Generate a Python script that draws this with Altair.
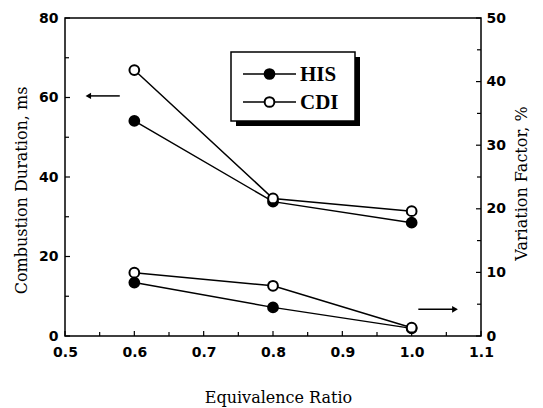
import altair as alt
import pandas as pd

# ---- data ----
ratio = [0.6, 0.8, 1.0]
series_names = ["HIS", "CDI"]
duration_his = [54.1, 33.8, 28.5]
duration_cdi = [66.9, 34.6, 31.4]
variation_his = [8.4, 4.5, 1.2]
variation_cdi = [9.95, 7.9, 1.3]

x_ticks = [0.5, 0.6, 0.7, 0.8, 0.9, 1.0, 1.1]
x_minor = [0.55, 0.65, 0.75, 0.85, 0.95, 1.05]
left_ticks = [0, 20, 40, 60, 80]
left_minor = [10, 30, 50, 70]
right_ticks = [0, 10, 20, 30, 40, 50]
right_minor = [5, 15, 25, 35, 45]

left_arrow_x = [0.5336, 0.579]
left_arrow_y = [60.4, 60.4]
right_arrow_x = [1.0096, 1.0625]
right_arrow_y = [4.2, 4.2]

W, H = 416, 318
LABEL_FONT = "DejaVu Sans"
TITLE_FONT = "DejaVu Serif"

dur = pd.DataFrame({
    "ratio": ratio * 2,
    "value": duration_his + duration_cdi,
    "series": ["HIS"] * 3 + ["CDI"] * 3,
})
var = pd.DataFrame({
    "ratio": ratio * 2,
    "value": variation_his + variation_cdi,
    "series": ["HIS"] * 3 + ["CDI"] * 3,
})

xscale = alt.Scale(domain=[0.5, 1.1], nice=False, zero=False)
lscale = alt.Scale(domain=[0, 80], nice=False)
rscale = alt.Scale(domain=[0, 50], nice=False)
fill_scale = alt.Scale(domain=series_names, range=["black", "white"])

x_axis = alt.Axis(
    values=x_ticks, format=".1f", ticks=False, domain=False, grid=False,
    labelFont=LABEL_FONT, labelFontWeight="bold", labelFontSize=14,
    labelColor="black", labelPadding=9, labelFlush=False, labelOverlap=False,
    title="Equivalence Ratio", titleFont=TITLE_FONT, titleFontWeight="normal",
    titleFontSize=16, titleColor="black", titleX=213, titleY=61,
    titleBaseline="middle", titleAlign="center",
)
left_axis = alt.Axis(
    orient="left", values=left_ticks, ticks=False, domain=False, grid=False,
    labelFont=LABEL_FONT, labelFontWeight="bold", labelFontSize=14,
    labelColor="black", labelPadding=7,
    title="Combustion Duration, ms", titleFont=TITLE_FONT, titleFontWeight="normal",
    titleFontSize=16, titleColor="black", titleX=-44, titleY=172,
    titleAngle=270, titleBaseline="middle", titleAlign="center",
)
right_axis = alt.Axis(
    orient="right", values=right_ticks, ticks=False, domain=False, grid=False,
    labelFont=LABEL_FONT, labelFontWeight="bold", labelFontSize=14,
    labelColor="black", labelPadding=5,
    title="Variation Factor, %", titleFont=TITLE_FONT, titleFontWeight="normal",
    titleFontSize=16, titleColor="black", titleX=40, titleY=165,
    titleAngle=270, titleBaseline="middle", titleAlign="center",
)

def X(field):
    return alt.X(field, scale=xscale, axis=x_axis)

# ---- duration (left axis) ----
l_line = alt.Chart(dur).mark_line(color="black", strokeWidth=1.5).encode(
    x=X("ratio:Q"),
    y=alt.Y("value:Q", scale=lscale, axis=left_axis),
    detail="series:N",
)
l_pts = alt.Chart(dur).mark_point(
    shape="circle", filled=True, size=95, stroke="black", strokeWidth=2, opacity=1
).encode(
    x=X("ratio:Q"),
    y=alt.Y("value:Q", scale=lscale, axis=None),
    fill=alt.Fill("series:N", scale=fill_scale, legend=None),
)

# ---- variation factor (right axis) ----
r_line = alt.Chart(var).mark_line(color="black", strokeWidth=1.5).encode(
    x=X("ratio:Q"),
    y=alt.Y("value:Q", scale=rscale, axis=right_axis),
    detail="series:N",
)
r_pts = alt.Chart(var).mark_point(
    shape="circle", filled=True, size=95, stroke="black", strokeWidth=2, opacity=1
).encode(
    x=X("ratio:Q"),
    y=alt.Y("value:Q", scale=rscale, axis=None),
    fill=alt.Fill("series:N", scale=fill_scale, legend=None),
)

# ---- inward ticks ----
def rule_x(vals, length):
    return alt.Chart(pd.DataFrame({"ratio": vals})).mark_rule(color="black", strokeWidth=1.2).encode(
        x=X("ratio:Q"), y=alt.value(H), y2=alt.value(H - length))

def rule_y(vals, scale, x0, x1):
    return alt.Chart(pd.DataFrame({"t": vals})).mark_rule(color="black", strokeWidth=1.2).encode(
        y=alt.Y("t:Q", scale=scale, axis=None), x=alt.value(x0), x2=alt.value(x1))

ticks = [
    rule_x(x_ticks, 5), rule_x(x_minor, 4),
    rule_y(left_ticks, lscale, 0, 5), rule_y(left_minor, lscale, 0, 4),
    rule_y(right_ticks, rscale, W, W - 5), rule_y(right_minor, rscale, W, W - 4),
]

# ---- arrows ----
la = pd.DataFrame({"ratio": left_arrow_x, "y": left_arrow_y})
ra = pd.DataFrame({"ratio": right_arrow_x, "y": right_arrow_y})
l_arrow = alt.Chart(la).mark_line(color="black", strokeWidth=1.5).encode(
    x=X("ratio:Q"), y=alt.Y("y:Q", scale=lscale, axis=None))
l_head = alt.Chart(la.head(1)).mark_point(
    shape="triangle-left", filled=True, color="black", size=40, opacity=1
).encode(x=X("ratio:Q"), y=alt.Y("y:Q", scale=lscale, axis=None))
r_arrow = alt.Chart(ra).mark_line(color="black", strokeWidth=1.5).encode(
    x=X("ratio:Q"), y=alt.Y("y:Q", scale=rscale, axis=None))
r_head = alt.Chart(ra.tail(1).reset_index(drop=True)).mark_point(
    shape="triangle-right", filled=True, color="black", size=45, opacity=1
).encode(x=X("ratio:Q"), y=alt.Y("y:Q", scale=rscale, axis=None))

# ---- legend box (hand-drawn, with drop shadow) ----
one = pd.DataFrame({"k": [0]})
shadow = alt.Chart(one).mark_rect(color="black").encode(
    x=alt.value(171), x2=alt.value(295), y=alt.value(39), y2=alt.value(108))
box = alt.Chart(one).mark_rect(fill="white", stroke="black", strokeWidth=1.5).encode(
    x=alt.value(166), x2=alt.value(290), y=alt.value(34), y2=alt.value(103))

legend_layers = [shadow, box]
for name, fill, ypos in [(series_names[0], "black", 56), (series_names[1], "white", 84)]:
    legend_layers.append(alt.Chart(one).mark_rule(color="black", strokeWidth=1.5).encode(
        x=alt.value(178), x2=alt.value(231), y=alt.value(ypos)))
    legend_layers.append(alt.Chart(one).mark_point(
        shape="circle", filled=True, fill=fill, stroke="black", strokeWidth=2,
        size=95, opacity=1).encode(x=alt.value(204.5), y=alt.value(ypos)))
    legend_layers.append(alt.Chart(pd.DataFrame({"label": [name]})).mark_text(
        font="Liberation Serif", fontWeight="bold", fontSize=21, color="black",
        align="left", baseline="middle").encode(
        text="label:N", x=alt.value(235), y=alt.value(ypos + 1)))

chart = (
    alt.layer(l_line, r_line, *ticks, l_arrow, l_head, r_arrow, r_head,
              l_pts, r_pts, *legend_layers)
    .resolve_scale(y="independent")
    .properties(
        width=W, height=H, autosize="none",
        padding={"left": 57, "top": 10, "right": 54, "bottom": 72},
        background="white",
    )
    .configure_view(stroke="black", strokeWidth=1.5)
)

chart.save("out.html", embed_options={"renderer": "svg", "actions": False})
